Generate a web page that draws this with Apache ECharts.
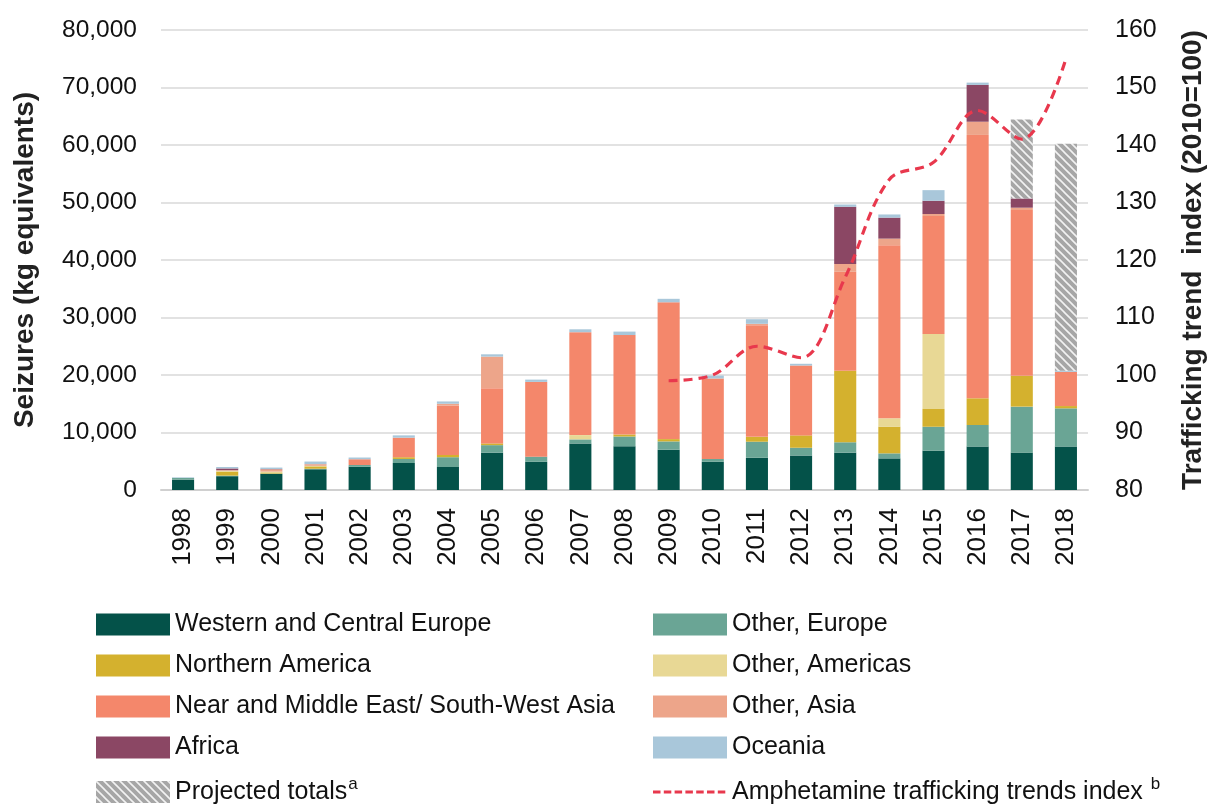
<!DOCTYPE html>
<html>
<head>
<meta charset="utf-8">
<script src="https://cdn.jsdelivr.net/npm/echarts@6/dist/echarts.min.js"></script>
<style>
  html, body { margin: 0; padding: 0; background: #fff; }
  #chart { width: 1210px; height: 805px; }
</style>
</head>
<body>
<div id="chart"></div>
<script>
// values (kg equivalents)
const years = ['1998','1999','2000','2001','2002','2003','2004','2005','2006','2007','2008','2009','2010','2011','2012','2013','2014','2015','2016','2017','2018'];
const westCentralEurope = [1800,2400,2800,3600,4050,4700,4000,6500,4900,8100,7600,7000,4900,5600,6000,6500,5500,6850,7550,6500,7550];
const otherEurope       = [300,100,50,100,300,700,1700,1300,900,700,1700,1450,500,2800,1350,1800,870,4150,3750,8000,6650];
const northernAmerica   = [0,700,100,400,0,300,400,300,0,0,350,400,0,850,2150,12450,4650,3100,4650,5350,400];
const otherAmericas     = [0,150,250,100,0,0,0,0,0,750,0,0,0,0,0,0,1450,13050,0,0,0];
const nearMiddleEast    = [0,0,0,0,1000,3400,8600,9600,13000,17900,17300,23800,14000,19400,12150,17200,30100,20500,45800,28850,5950];
const otherAsia         = [0,100,400,300,0,0,300,5500,0,0,0,0,0,250,0,1350,1150,350,2300,400,0];
const africa            = [0,300,50,0,0,0,0,0,0,0,0,0,0,0,0,9950,3650,2300,6400,1600,0];
const oceania           = [100,250,250,450,300,400,400,400,400,500,600,600,500,800,300,400,550,1850,400,0,200];
const projected         = [0,0,0,0,0,0,0,0,0,0,0,0,0,0,0,0,0,0,0,13750,39450];
const trendIndex        = [null,null,null,null,null,null,null,null,null,null,null,99,100,105,103,117,134,137,146,141,155];

const leftTicks = [0, 80000, 10000];
const rightTicks = [80, 160, 10];

// legend columns, in reading order
const legendLeft = ['Western and Central Europe', 'Northern America', 'Near and Middle East/ South-West Asia', 'Africa', 'Projected totals'];
const legendRight = ['Other, Europe', 'Other, Americas', 'Other, Asia', 'Oceania', 'Amphetamine trafficking trends index'];

// grey hatch for projected totals
function hatch() {
  const c = document.createElement('canvas');
  c.width = 8; c.height = 8;
  const g = c.getContext('2d');
  g.fillStyle = '#a6a6a6';
  g.fillRect(0, 0, 8, 8);
  g.strokeStyle = '#f2f2f2';
  g.lineWidth = 1.6;
  g.beginPath();
  g.moveTo(-2, -2); g.lineTo(10, 10);
  g.moveTo(-2, 6); g.lineTo(2, 10);
  g.moveTo(6, -2); g.lineTo(10, 2);
  g.stroke();
  return c;
}

// legend key for the dashed trend line: 7 short dashes in a 74x22 box
function dashIcon() {
  let p = 'path://M0,0 L74,0 L74,0.01 Z M0,22 L74,22 L74,21.99 Z';
  for (let i = 0; i < 7; i++) {
    const x = (i * 10.8).toFixed(1);
    p += ' M' + x + ',9.5 h7.5 v3 h-7.5 Z';
  }
  return p;
}

const font = '"Liberation Sans", Arial, sans-serif';
const chart = echarts.init(document.getElementById('chart'));

function bar(name, data, color) {
  return {
    name: name, type: 'bar', stack: 'total', data: data, barWidth: '50%',
    itemStyle: { color: color }, emphasis: { disabled: true }
  };
}

const legendText = {
  fontFamily: font, fontSize: 25, color: '#111',
  rich: {
    n: { fontFamily: font, fontSize: 25, color: '#111' },
    sup: { fontFamily: font, fontSize: 17, color: '#111', padding: [0, 0, 15, 1] }
  }
};
function legendFmt(name) {
  if (name === 'Projected totals') return '{n|Projected totals}{sup|a}';
  if (name === 'Amphetamine trafficking trends index') return '{n|Amphetamine trafficking trends index }{sup|b}';
  return '{n|' + name + '}';
}

// one legend per row so the rows sit exactly where the reference has them
const rowY = [623, 664, 705, 746, 787];
const legends = [];
[[legendLeft, 96], [legendRight, 653]].forEach(([names, x]) => {
  names.forEach((name, i) => {
    const item = name === 'Amphetamine trafficking trends index'
      ? { name: name, icon: dashIcon(), itemStyle: { color: '#e8384d' } }
      : name;
    legends.push({
      left: x, top: rowY[i] - 11, padding: 0, itemWidth: 74, itemHeight: 22,
      icon: 'rect', textStyle: legendText, formatter: legendFmt, selectedMode: false,
      data: [item]
    });
  });
});

chart.setOption({
  animation: false,
  textStyle: { fontFamily: font },
  grid: { left: 161, right: 122, top: 30, bottom: 315, outerBoundsMode: 'none' },
  legend: legends,
  xAxis: {
    type: 'category', data: years,
    axisLine: { lineStyle: { color: '#d0d0d0', width: 2 } },
    axisTick: { show: false },
    axisLabel: { rotate: 90, interval: 0, margin: 18, fontSize: 26, color: '#111', fontFamily: font }
  },
  yAxis: [
    {
      type: 'value', min: leftTicks[0], max: leftTicks[1], interval: leftTicks[2],
      name: 'Seizures (kg equivalents)', nameLocation: 'middle', nameRotate: 90, nameGap: 122,
      nameTextStyle: { fontSize: 28, fontWeight: 'bold', color: '#222', fontFamily: font },
      axisLine: { show: false }, axisTick: { show: false },
      axisLabel: { margin: 24, fontSize: 24.5, color: '#111', fontFamily: font,
        formatter: v => v.toLocaleString('en-US') },
      splitLine: { lineStyle: { color: '#d9d9d9', width: 1.5 } }
    },
    {
      type: 'value', min: rightTicks[0], max: rightTicks[1], interval: rightTicks[2],
      name: 'Trafficking trend  index (2010=100)', nameLocation: 'middle', nameRotate: 90, nameGap: 91,
      nameTextStyle: { fontSize: 28, fontWeight: 'bold', color: '#222', fontFamily: font },
      axisLine: { show: false }, axisTick: { show: false },
      axisLabel: { margin: 27, fontSize: 25, color: '#111', fontFamily: font },
      splitLine: { show: false }
    }
  ],
  series: [
    bar('Western and Central Europe', westCentralEurope, '#045249'),
    bar('Other, Europe', otherEurope, '#6aa595'),
    bar('Northern America', northernAmerica, '#d4b12e'),
    bar('Other, Americas', otherAmericas, '#e8d895'),
    bar('Near and Middle East/ South-West Asia', nearMiddleEast, '#f4876b'),
    bar('Other, Asia', otherAsia, '#eda58a'),
    bar('Africa', africa, '#8b4764'),
    bar('Oceania', oceania, '#a9c7da'),
    bar('Projected totals', projected, { image: hatch(), repeat: 'repeat' }),
    {
      name: 'Amphetamine trafficking trends index', type: 'line', yAxisIndex: 1,
      data: trendIndex, smooth: 0.35, showSymbol: false, symbol: 'none',
      lineStyle: { color: '#e8384d', width: 3.2, type: [9, 6] },
      itemStyle: { color: '#e8384d' }, z: 5
    }
  ]
});
</script>
</body>
</html>
